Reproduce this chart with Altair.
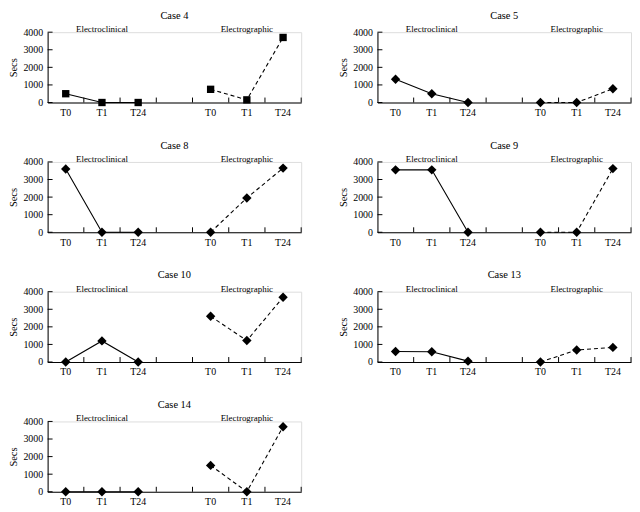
import altair as alt
import pandas as pd

case_names = ["Case 4", "Case 5", "Case 8", "Case 9", "Case 10", "Case 13", "Case 14"]
time_labels = ["T0", "T1", "T24"]
electroclinical = [
    [500, 0, 0],
    [1320, 500, 0],
    [3600, 0, 0],
    [3550, 3550, 0],
    [0, 1200, 0],
    [600, 580, 50],
    [0, 0, 0],
]
electrographic = [
    [750, 150, 3700],
    [0, 0, 780],
    [0, 1950, 3650],
    [0, 0, 3620],
    [2600, 1220, 3680],
    [0, 680, 830],
    [1500, 0, 3700],
]
marker_shapes = ["square", "diamond", "diamond", "diamond", "diamond", "diamond", "diamond"]
marker_sizes = [55, 90, 90, 90, 90, 90, 90]
group_titles = ["Electroclinical", "Electrographic"]
y_ticks = [0, 1000, 2000, 3000, 4000]

categories = ["EC_T0", "EC_T1", "EC_T24", "gap", "EG_T0", "EG_T1", "EG_T24"]

SERIF = "Liberation Serif, Times New Roman, Times, DejaVu Serif, serif"
W, H = 256, 71

x_scale = alt.Scale(domain=categories, paddingInner=0, paddingOuter=0)
y_scale = alt.Scale(domain=[0, 4000], nice=False)

x_axis = alt.Axis(
    title=None,
    labelExpr="datum.value == 'gap' ? '' : slice(datum.value, 3)",
    ticks=False,
    grid=False,
    labelAngle=0,
    labelFont=SERIF,
    labelFontSize=10,
    labelPadding=5,
    labelColor="black",
    domainColor="black",
    domainWidth=1,
)
y_axis = alt.Axis(
    title="Secs",
    values=y_ticks,
    format="d",
    ticks=False,
    grid=False,
    labelFont=SERIF,
    labelFontSize=10,
    labelPadding=5,
    labelColor="black",
    domainColor="black",
    domainWidth=1,
    titleFont=SERIF,
    titleFontSize=10.5,
    titleFontWeight="normal",
    titleColor="black",
    titlePadding=4,
)


def X(**kw):
    return alt.X("pos:N", sort=categories, scale=x_scale, axis=x_axis, **kw)


def Y():
    return alt.Y("secs:Q", scale=y_scale, axis=y_axis)


def panel(i):
    rows = []
    for j, t in enumerate(time_labels):
        rows.append({"pos": "EC_" + t, "secs": electroclinical[i][j], "grp": "EC"})
    for j, t in enumerate(time_labels):
        rows.append({"pos": "EG_" + t, "secs": electrographic[i][j], "grp": "EG"})
    df = pd.DataFrame(rows)

    base = alt.Chart(df)
    ec_line = base.transform_filter("datum.grp == 'EC'").mark_line(
        color="black", strokeWidth=1.1
    ).encode(x=X(), y=Y())
    eg_line = base.transform_filter("datum.grp == 'EG'").mark_line(
        color="black", strokeWidth=1.1, strokeDash=[4, 3]
    ).encode(x=X(), y=Y())
    pts = base.mark_point(
        shape=marker_shapes[i], size=marker_sizes[i], filled=True,
        color="black", opacity=1
    ).encode(x=X(), y=Y())

    lab_df = pd.DataFrame({
        "pos": ["EC_T1", "EG_T1"],
        "secs": [4000, 4000],
        "txt": group_titles,
    })
    labels = alt.Chart(lab_df).mark_text(
        font=SERIF, fontSize=9, color="black", baseline="alphabetic", dy=0
    ).encode(x=X(), y=Y(), text="txt:N")

    xt = alt.Chart(pd.DataFrame({"pos": categories})).mark_rule(
        color="black", strokeWidth=1
    ).encode(x=X(bandPosition=1), y=alt.value(H), y2=alt.value(H - 5))

    yt = alt.Chart(pd.DataFrame({"secs": y_ticks})).mark_rule(
        color="black", strokeWidth=1
    ).encode(y=Y(), x=alt.value(0), x2=alt.value(5))

    return alt.layer(xt, yt, ec_line, eg_line, pts, labels).properties(
        width=W, height=H,
        title=alt.TitleParams(case_names[i], font=SERIF, fontSize=10.5,
                              fontWeight="normal", color="black",
                              anchor="middle", offset=4),
    )


panels = [panel(i) for i in range(len(case_names))]
rows = [alt.hconcat(*panels[k:k + 2], spacing=36) for k in range(0, len(panels), 2)]
chart = alt.vconcat(*rows, spacing=22).configure_view(stroke=None).configure(
    padding=0
)

chart.save("out.html", embed_options={"renderer": "svg", "actions": False})
